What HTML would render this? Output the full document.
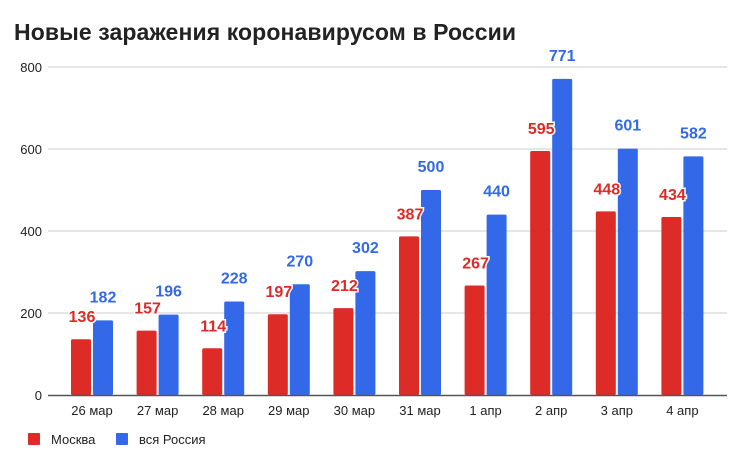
<!DOCTYPE html>
<html><head><meta charset="utf-8"><style>
body{margin:0;background:#fff;width:746px;height:469px;overflow:hidden}
</style></head><body>
<svg width="746" height="469" xmlns="http://www.w3.org/2000/svg" font-family="Liberation Sans, Arial, sans-serif">
<text x="14" y="40" font-size="23" font-weight="bold" fill="#222" textLength="502">Новые заражения коронавирусом в России</text>
<g stroke="#ccc" stroke-width="1">
<line x1="48" x2="727" y1="67" y2="67"/><line x1="48" x2="727" y1="149" y2="149"/>
<line x1="48" x2="727" y1="231" y2="231"/><line x1="48" x2="727" y1="313" y2="313"/>
</g>
<g font-size="13" fill="#222" text-anchor="end">
<text x="42" y="72">800</text><text x="42" y="154">600</text><text x="42" y="236">400</text><text x="42" y="318">200</text><text x="42" y="400">0</text>
</g>
<g id="bars"></g>
<line x1="48" x2="727" y1="395.5" y2="395.5" stroke="#555" stroke-width="1.5"/>
<g font-size="13" fill="#222">
<rect x="28" y="433" width="12" height="12" fill="#dd2b27" rx="1"/><text x="51" y="444">Москва</text>
<rect x="116" y="433" width="12" height="12" fill="#3369e8" rx="1"/><text x="139" y="444">вся Россия</text>
</g>
</svg>
<script>
var m=[136,157,114,197,212,387,267,595,448,434],r=[182,196,228,270,302,500,440,771,601,582],
d=["26 мар","27 мар","28 мар","29 мар","30 мар","31 мар","1 апр","2 апр","3 апр","4 апр"],s="";
for(var i=0;i<10;i++){var x=71+65.6*i,h1=m[i]*0.41,h2=r[i]*0.41;
s+='<rect x="'+x+'" y="'+(395-h1)+'" width="20" height="'+h1+'" fill="#dd2b27" rx="1.5"/>';
s+='<rect x="'+(x+22)+'" y="'+(395-h2)+'" width="20" height="'+h2+'" fill="#3369e8" rx="1.5"/>';
s+='<text x="'+(x+11)+'" y="'+(395-h1-17)+'" font-size="16" font-weight="bold" fill="#dd2b27" text-anchor="middle" stroke="#fff" stroke-width="3" paint-order="stroke">'+m[i]+'</text>';
s+='<text x="'+(x+32)+'" y="'+(395-h2-18)+'" font-size="16" font-weight="bold" fill="#3369e8" text-anchor="middle" stroke="#fff" stroke-width="3" paint-order="stroke">'+r[i]+'</text>';
s+='<text x="'+(x+21)+'" y="415" font-size="13" fill="#222" text-anchor="middle">'+d[i]+'</text>';}
document.getElementById("bars").innerHTML=s;
</script>
</body></html>
